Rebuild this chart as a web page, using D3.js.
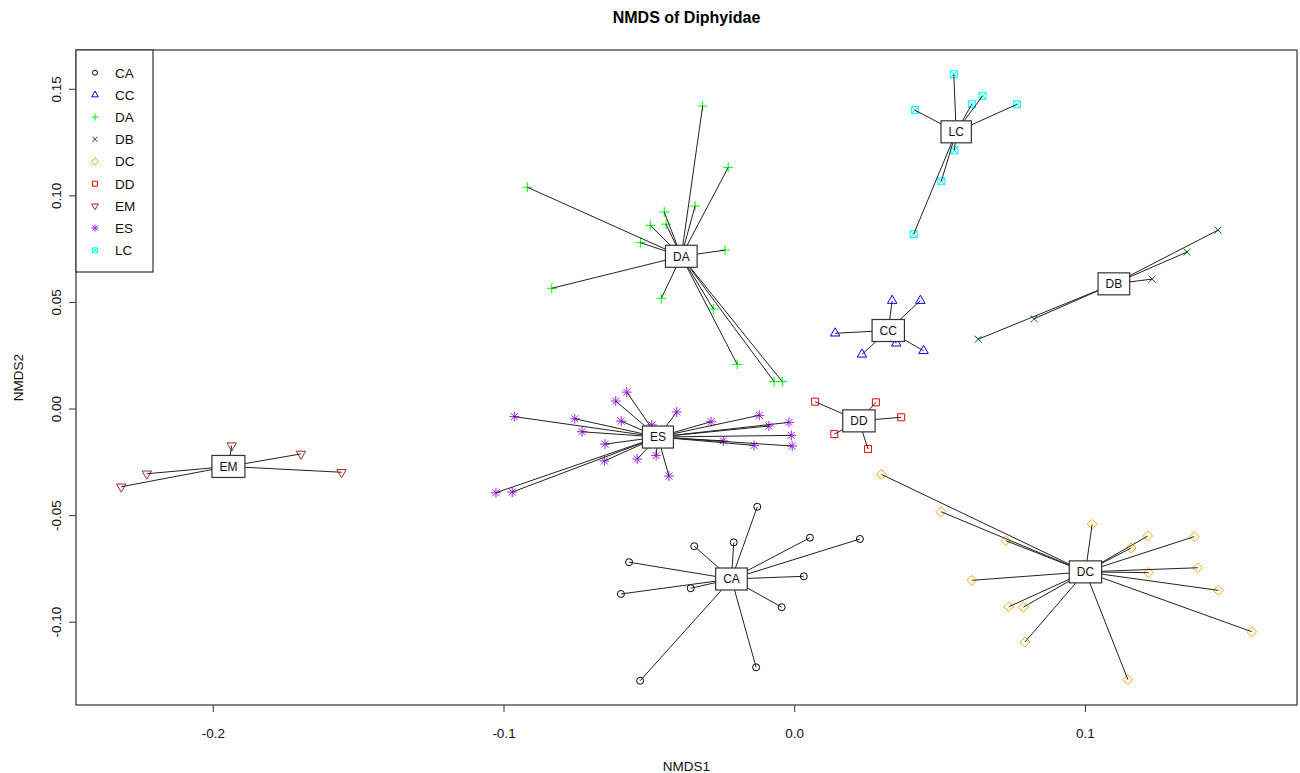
<!DOCTYPE html>
<html>
<head>
<meta charset="utf-8">
<script src="https://cdn.jsdelivr.net/npm/d3@7"></script>
<style>
    body { margin: 0; background: #fff; }
    text { font-family: "Liberation Sans", Arial, sans-serif; }
</style>
</head>
<body>
<div id="chart"></div>
<script>
// NMDS site scores per group [NMDS1, NMDS2]
const CA = [[-0.0127,-0.0461],[0.0054,-0.0606],[0.0226,-0.0612],[-0.0208,-0.0628],[-0.0344,-0.0646],[-0.0568,-0.0721],
    [0.0033,-0.0787],[-0.0356,-0.0843],[-0.0596,-0.0870],[-0.0043,-0.0932],[-0.0131,-0.1214],[-0.0530,-0.1277]];
const CC = [[0.0337,0.0506],[0.0434,0.0506],[0.0141,0.0353],[0.0233,0.0254],[0.0351,0.0306],[0.0445,0.0271]];
const DA = [[-0.0315,0.1419],[-0.0227,0.1131],[-0.0341,0.0950],[-0.0918,0.1038],[-0.0447,0.0922],[-0.0441,0.0865],
    [-0.0495,0.0859],[-0.0529,0.0778],[-0.0238,0.0743],[-0.0834,0.0564],[-0.0457,0.0517],[-0.0278,0.0467],
    [-0.0196,0.0207],[-0.0069,0.0126],[-0.0041,0.0126]];
const DB = [[0.0633,0.0325],[0.0825,0.0421],[0.1231,0.0607],[0.1351,0.0734],[0.1458,0.0837]];
const DC = [[0.0300,-0.0309],[0.0505,-0.0484],[0.1025,-0.0543],[0.1216,-0.0598],[0.1376,-0.0601],[0.0728,-0.0620],
    [0.1159,-0.0654],[0.1388,-0.0747],[0.1219,-0.0770],[0.0611,-0.0806],[0.1459,-0.0853],[0.0738,-0.0930],
    [0.0788,-0.0932],[0.1574,-0.1047],[0.0794,-0.1095],[0.1148,-0.1272]];
const DD = [[0.0072,0.0032],[0.0281,0.0029],[0.0368,-0.0041],[0.0138,-0.0120],[0.0254,-0.0190]];
const EM = [[-0.1935,-0.0174],[-0.1697,-0.0213],[-0.2227,-0.0306],[-0.1557,-0.0299],[-0.2315,-0.0367]];
const ES = [[-0.0576,0.0077],[-0.0614,0.0035],[-0.0963,-0.0038],[-0.0755,-0.0048],[-0.0404,-0.0016],[-0.0595,-0.0059],
    [-0.0730,-0.0109],[-0.0651,-0.0167],[-0.0653,-0.0246],[-0.0540,-0.0237],[-0.0475,-0.0221],[-0.0431,-0.0317],
    [-0.1026,-0.0395],[-0.0970,-0.0392],[-0.0286,-0.0062],[-0.0120,-0.0032],[-0.0018,-0.0065],[-0.0087,-0.0082],
    [-0.0010,-0.0126],[-0.0244,-0.0152],[-0.0138,-0.0173],[-0.0007,-0.0176],[-0.0490,-0.0077]];
const LC = [[0.0549,0.1568],[0.0648,0.1467],[0.0611,0.1427],[0.0766,0.1427],[0.0415,0.1400],[0.0551,0.1211],
    [0.0506,0.1066],[0.0411,0.0818]];

const groups = ["CA","CC","DA","DB","DC","DD","EM","ES","LC"];
const sites = [CA, CC, DA, DB, DC, DD, EM, ES, LC];
const colours = ["black","blue","#00ff00","darkgreen","orange","red","brown","#a020f0","cyan"];
const pchs = [1, 2, 3, 4, 5, 0, 6, 8, 7];

const xTicks = [-0.2, -0.1, 0.0, 0.1];
const xTickLabels = ["-0.2", "-0.1", "0.0", "0.1"];
const yTicks = [-0.10, -0.05, 0.00, 0.05, 0.10, 0.15];
const yTickLabels = ["-0.10", "-0.05", "0.00", "0.05", "0.10", "0.15"];

const width = 1300, height = 773;
const margin = {top: 50, right: 3, bottom: 68, left: 76};

let svg = d3.select("#chart").append("svg")
    .attr("width", width)
    .attr("height", height);

// R style axis limits: data range extended by 4%
let allPts = sites.flat();
let xExt = d3.extent(allPts, d => d[0]);
let yExt = d3.extent(allPts, d => d[1]);
let xPad = (xExt[1] - xExt[0]) * 0.04;
let yPad = (yExt[1] - yExt[0]) * 0.04;

let x = d3.scaleLinear()
    .domain([xExt[0] - xPad, xExt[1] + xPad])
    .range([margin.left, width - margin.right]);
let y = d3.scaleLinear()
    .domain([yExt[0] - yPad, yExt[1] + yPad])
    .range([height - margin.bottom, margin.top]);

// point symbols, sized like R's pch at cex = 1
function pchPath(pch, r) {
    let p = d3.path();
    let t0 = 1.5551 * r, t1 = 1.3468 * r, t2 = 0.7776 * r, s2 = Math.SQRT2 * r;
    switch (pch) {
        case 0:
            p.rect(-r, -r, 2 * r, 2 * r); break;
        case 1:
            p.moveTo(r, 0); p.arc(0, 0, r, 0, 2 * Math.PI); break;
        case 2:
            p.moveTo(0, -t0); p.lineTo(t1, t2); p.lineTo(-t1, t2); p.closePath(); break;
        case 3:
            p.moveTo(-s2, 0); p.lineTo(s2, 0); p.moveTo(0, -s2); p.lineTo(0, s2); break;
        case 4:
            p.moveTo(-r, -r); p.lineTo(r, r); p.moveTo(-r, r); p.lineTo(r, -r); break;
        case 5:
            p.moveTo(0, -s2); p.lineTo(s2, 0); p.lineTo(0, s2); p.lineTo(-s2, 0); p.closePath(); break;
        case 6:
            p.moveTo(0, t0); p.lineTo(t1, -t2); p.lineTo(-t1, -t2); p.closePath(); break;
        case 7:
            p.rect(-r, -r, 2 * r, 2 * r);
            p.moveTo(-r, -r); p.lineTo(r, r); p.moveTo(-r, r); p.lineTo(r, -r); break;
        case 8:
            p.moveTo(-r, -r); p.lineTo(r, r); p.moveTo(-r, r); p.lineTo(r, -r);
            p.moveTo(-s2, 0); p.lineTo(s2, 0); p.moveTo(0, -s2); p.lineTo(0, s2); break;
    }
    return p.toString();
}

let groupData = groups.map((g, i) => ({
    key: g,
    colour: colours[i],
    pch: pchs[i],
    pts: sites[i],
    cx: d3.mean(sites[i], d => d[0]),
    cy: d3.mean(sites[i], d => d[1])
}));

// points
groupData.forEach(function (g) {
    svg.append("g").selectAll("path")
        .data(g.pts)
        .enter()
        .append("path")
        .attr("d", pchPath(g.pch, 3.5))
        .attr("transform", d => `translate(${x(d[0])},${y(d[1])})`)
        .attr("fill", "none")
        .attr("stroke", g.colour)
        .attr("stroke-width", 1);
});

// spider lines from group centroid
groupData.forEach(function (g) {
    svg.append("g").selectAll("line")
        .data(g.pts)
        .enter()
        .append("line")
        .attr("x1", x(g.cx))
        .attr("y1", y(g.cy))
        .attr("x2", d => x(d[0]))
        .attr("y2", d => y(d[1]))
        .attr("stroke", "#222")
        .attr("stroke-width", 1);
});

// centroid labels in boxes
let labels = svg.append("g").selectAll(".lab")
    .data(groupData)
    .enter()
    .append("g")
    .attr("class", "lab")
    .attr("transform", d => `translate(${x(d.cx)},${y(d.cy)})`);
labels.append("rect")
    .attr("fill", "white")
    .attr("stroke", "#333")
    .attr("stroke-width", 1.2);
labels.append("text")
    .attr("text-anchor", "middle")
    .attr("dy", "0.36em")
    .style("font-size", "12px")
    .attr("fill", "#111")
    .text(d => d.key);
labels.each(function () {
    let w = d3.select(this).select("text").node().getComputedTextLength() + 15;
    d3.select(this).select("rect")
        .attr("x", -w / 2)
        .attr("y", -11)
        .attr("width", w)
        .attr("height", 22);
});

// axes
let xAxis = svg.append("g")
    .attr("transform", `translate(0, ${height - margin.bottom})`)
    .call(d3.axisBottom(x).tickValues(xTicks).tickSize(7).tickPadding(16)
        .tickFormat((d, i) => xTickLabels[i]));
let yAxis = svg.append("g")
    .attr("transform", `translate(${margin.left}, 0)`)
    .call(d3.axisLeft(y).tickValues(yTicks).tickSize(7)
        .tickFormat((d, i) => yTickLabels[i]));
[xAxis, yAxis].forEach(function (a) {
    a.select(".domain").remove();
    a.selectAll("line").attr("stroke", "#333");
    a.selectAll("text").style("font-size", "13.5px").attr("fill", "#111")
        .style("font-family", "'Liberation Sans', Arial, sans-serif");
});
yAxis.selectAll("text")
    .attr("x", null)
    .attr("dy", null)
    .attr("text-anchor", "middle")
    .attr("transform", "translate(-15,0) rotate(-90)");

// plot frame
svg.append("rect")
    .attr("x", margin.left)
    .attr("y", margin.top)
    .attr("width", width - margin.left - margin.right)
    .attr("height", height - margin.top - margin.bottom)
    .attr("fill", "none")
    .attr("stroke", "#333")
    .attr("stroke-width", 1.2);

// titles
svg.append("text")
    .attr("x", (margin.left + width - margin.right) / 2)
    .attr("y", 23)
    .attr("text-anchor", "middle")
    .style("font-size", "16px")
    .style("font-weight", "bold")
    .text("NMDS of Diphyidae");
svg.append("text")
    .attr("x", (margin.left + width - margin.right) / 2)
    .attr("y", 771)
    .attr("text-anchor", "middle")
    .style("font-size", "13.5px")
    .attr("fill", "#111")
    .text("NMDS1");
svg.append("text")
    .attr("transform", `translate(23, ${(margin.top + height - margin.bottom) / 2}) rotate(-90)`)
    .attr("text-anchor", "middle")
    .style("font-size", "13.5px")
    .attr("fill", "#111")
    .text("NMDS2");

// legend
let legend = svg.append("g");
legend.append("rect")
    .attr("x", margin.left)
    .attr("y", margin.top)
    .attr("width", 77)
    .attr("height", 222)
    .attr("fill", "white")
    .attr("stroke", "#333")
    .attr("stroke-width", 1.2);
let items = legend.selectAll(".item")
    .data(groupData)
    .enter()
    .append("g")
    .attr("class", "item")
    .attr("transform", (d, i) => `translate(${margin.left}, ${72.7 + i * 22.2})`);
items.append("path")
    .attr("d", d => pchPath(d.pch, 2.5))
    .attr("transform", "translate(19,0)")
    .attr("fill", "none")
    .attr("stroke", d => d.colour);
items.append("text")
    .attr("x", 39)
    .attr("dy", "0.36em")
    .style("font-size", "13.5px")
    .attr("fill", "#111")
    .text(d => d.key);
</script>
</body>
</html>
